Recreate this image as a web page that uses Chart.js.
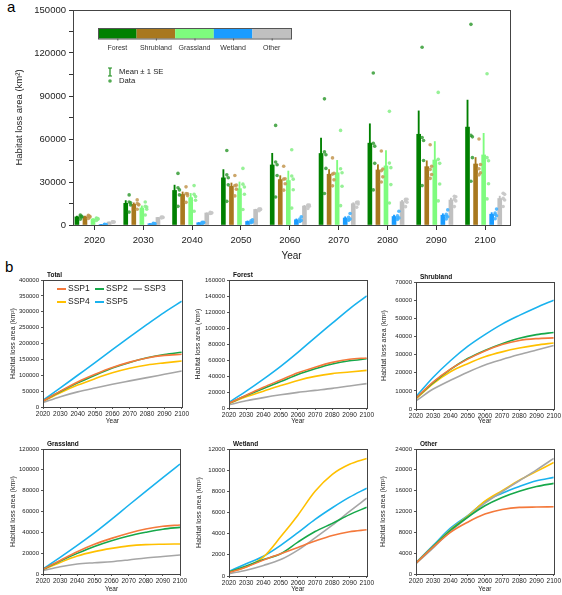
<!DOCTYPE html>
<html>
<head>
<meta charset="utf-8">
<script src="https://cdn.jsdelivr.net/npm/chart.js@4.4.0/dist/chart.umd.min.js"></script>
<style>
  body { margin: 0; background: #fff; width: 562px; height: 595px; position: relative; overflow: hidden;
         font-family: "Liberation Sans", Arial, sans-serif; }
  canvas { position: absolute; }
  .tag { position: absolute; font-size: 15px; color: #000; }
</style>
</head>
<body>
<div class="tag" style="left:7px;top:-2px">a</div>
<div class="tag" style="left:5px;top:258px">b</div>
<script>
// years and scenario names
const years = [2020, 2030, 2040, 2050, 2060, 2070, 2080, 2090, 2100];
const sspNames = ['SSP1', 'SSP2', 'SSP3', 'SSP4', 'SSP5'];
const landTypes = ['Forest', 'Shrubland', 'Grassland', 'Wetland', 'Other'];

// habitat loss area (km2)
const totalSSP1 = [18900, 50000, 78900, 103000, 124400, 141400, 154600, 162600, 166000];
const totalSSP2 = [19000, 48700, 76000, 100300, 122600, 140400, 154900, 165600, 172400];
const totalSSP3 = [13900, 32500, 47600, 60000, 71600, 82200, 92600, 102900, 113200];
const totalSSP4 = [17500, 45100, 69100, 89300, 107600, 122000, 132400, 139000, 144700];
const totalSSP5 = [21000, 60000, 100000, 140000, 181000, 221000, 260000, 298000, 333000];

const forestSSP1 = [6000, 16000, 26000, 35000, 44000, 51000, 57000, 61000, 62500];
const forestSSP2 = [6000, 15500, 24500, 33000, 42000, 49000, 55000, 59000, 61500];
const forestSSP3 = [4000, 9000, 13000, 16500, 19500, 22000, 24500, 27500, 30500];
const forestSSP4 = [5500, 14000, 21000, 28000, 34500, 39500, 43000, 45000, 47000];
const forestSSP5 = [7000, 21000, 36000, 52000, 69500, 88000, 106000, 124000, 140000];

const shrubSSP1 = [6000, 15000, 22000, 27500, 32000, 35500, 37800, 38800, 39200];
const shrubSSP2 = [6000, 14500, 21800, 27800, 32300, 36000, 39000, 41000, 42200];
const shrubSSP3 = [4500, 11000, 15800, 20300, 24300, 27300, 30000, 32500, 35000];
const shrubSSP4 = [5500, 14000, 20500, 25000, 28800, 31500, 33600, 35200, 36400];
const shrubSSP5 = [6800, 17500, 26600, 34500, 41000, 46800, 51600, 56000, 60000];

const grassSSP1 = [4500, 13000, 21400, 28500, 34200, 39200, 43200, 45800, 47000];
const grassSSP2 = [4500, 12500, 19800, 26500, 32000, 36500, 40000, 43000, 44800];
const grassSSP3 = [3200, 7000, 9600, 10800, 11800, 13500, 15400, 16800, 18200];
const grassSSP4 = [4000, 11000, 17300, 21500, 24600, 27000, 28200, 28600, 28800];
const grassSSP5 = [4800, 16000, 27500, 39500, 52500, 66000, 79300, 92500, 105500];

const wetSSP1 = [320, 850, 1500, 2100, 2700, 3300, 3830, 4180, 4370];
const wetSSP2 = [380, 950, 1550, 2100, 3200, 4200, 4970, 5800, 6500];
const wetSSP3 = [220, 550, 1000, 1550, 2450, 3600, 4800, 6100, 7350];
const wetSSP4 = [380, 850, 1800, 3700, 5750, 8000, 9600, 10550, 11100];
const wetSSP5 = [440, 1150, 1870, 2900, 4100, 5350, 6450, 7450, 8300];

const otherSSP1 = [2100, 5200, 8000, 9950, 11500, 12400, 12800, 12850, 12900];
const otherSSP2 = [2100, 5300, 8400, 10900, 13100, 14700, 15900, 16800, 17400];
const otherSSP3 = [2000, 5000, 8200, 10900, 13600, 15800, 17900, 20000, 22200];
const otherSSP4 = [2100, 5300, 8500, 11100, 14000, 16000, 18000, 19700, 21400];
const otherSSP5 = [2200, 5500, 8800, 11200, 13900, 15500, 16800, 17900, 18550];

const landSeries = [
  [forestSSP1, forestSSP2, forestSSP3, forestSSP4, forestSSP5],
  [shrubSSP1, shrubSSP2, shrubSSP3, shrubSSP4, shrubSSP5],
  [grassSSP1, grassSSP2, grassSSP3, grassSSP4, grassSSP5],
  [wetSSP1, wetSSP2, wetSSP3, wetSSP4, wetSSP5],
  [otherSSP1, otherSSP2, otherSSP3, otherSSP4, otherSSP5]
];
const totalSeries = [totalSSP1, totalSSP2, totalSSP3, totalSSP4, totalSSP5];

// styling
const FONT = '"Liberation Sans", Arial, sans-serif';
Chart.defaults.font.family = FONT;
Chart.defaults.color = '#222';
Chart.defaults.animation = false;

const barColors = ['#008000', '#a8781e', '#7efc7e', '#1a9cff', '#c0c0c0'];
const dotColors = ['rgba(40,150,40,0.8)', 'rgba(195,150,80,0.85)', 'rgba(140,240,140,0.9)',
                   'rgba(60,175,255,0.85)', 'rgba(200,200,200,0.95)'];
const sspColors = ['#f4793b', '#16a84a', '#a6a6a6', '#ffc000', '#19b2ee'];
const barShift = [-3.6, -1.95, -0.3, 1.35, 3.0];
const dotShift = [0.7, 1.0, 0.7, 1.0, 0.7];

function makeCanvas(left, top, w, h) {
  const c = document.createElement('canvas');
  c.width = w; c.height = h;
  c.style.left = left + 'px'; c.style.top = top + 'px';
  c.style.width = w + 'px'; c.style.height = h + 'px';
  document.body.appendChild(c);
  return c;
}

const framePlugin = {
  id: 'frame',
  afterDraw(chart) {
    const {ctx, chartArea: a} = chart;
    ctx.save();
    ctx.strokeStyle = '#444';
    ctx.lineWidth = 1;
    ctx.strokeRect(Math.round(a.left) + 0.5, Math.round(a.top) + 0.5,
                   Math.round(a.right - a.left), Math.round(a.bottom - a.top));
    ctx.restore();
  }
};

// ---------- panel a ----------
const stats = landSeries.map(group => years.map((y, k) => {
  const vals = group.map(s => s[k]);
  const m = vals.reduce((a, b) => a + b, 0) / vals.length;
  const sd = Math.sqrt(vals.reduce((a, v) => a + (v - m) ** 2, 0) / (vals.length - 1));
  return {mean: m, se: sd / Math.sqrt(vals.length)};
}));

const aSets = [];
landTypes.forEach((name, i) => {
  aSets.push({
    type: 'bar', label: name + ' SE', grouped: false, order: 3,
    data: years.map((y, k) => ({x: y + barShift[i], y: [stats[i][k].mean - stats[i][k].se, stats[i][k].mean + stats[i][k].se]})),
    backgroundColor: barColors[i], barThickness: 1.2
  });
  aSets.push({
    type: 'bar', label: name, grouped: false, order: 2,
    data: years.map((y, k) => ({x: y + barShift[i], y: stats[i][k].mean})),
    backgroundColor: barColors[i], barThickness: 4
  });
  aSets.push({
    type: 'scatter', label: name + ' data', order: 1,
    data: years.flatMap((y, k) => landSeries[i].map((s, j) => ({x: y + barShift[i] + dotShift[j], y: s[k]}))),
    pointRadius: 1.8, pointBackgroundColor: dotColors[i], pointBorderWidth: 0
  });
});

const landLegend = {
  id: 'landLegend',
  afterDraw(chart) {
    const ctx = chart.ctx;
    const x0 = 98, y0 = 28, w = 38.6, h = 10.5;
    ctx.save();
    landTypes.forEach((name, i) => {
      ctx.fillStyle = barColors[i];
      ctx.fillRect(x0 + i * w, y0, w, h);
      ctx.strokeStyle = '#555';
      ctx.beginPath();
      ctx.moveTo(x0 + i * w + w / 2 + 0.5, y0 + h);
      ctx.lineTo(x0 + i * w + w / 2 + 0.5, y0 + h + 2);
      ctx.stroke();
      ctx.fillStyle = '#333';
      ctx.font = '7px ' + FONT;
      ctx.textAlign = 'center';
      ctx.textBaseline = 'middle';
      ctx.fillText(name, x0 + i * w + w / 2, 48);
    });
    ctx.strokeStyle = '#555';
    ctx.lineWidth = 1;
    ctx.strokeRect(x0 + 0.5, y0 + 0.5, 5 * w, h);
    // mean +- SE symbol
    ctx.strokeStyle = '#1a8c1a';
    ctx.lineWidth = 1.2;
    ctx.beginPath();
    ctx.moveTo(110, 68); ctx.lineTo(110, 76);
    ctx.moveTo(108, 68); ctx.lineTo(112, 68);
    ctx.moveTo(108, 76); ctx.lineTo(112, 76);
    ctx.stroke();
    ctx.fillStyle = 'rgba(40,150,40,0.8)';
    ctx.beginPath(); ctx.arc(110, 81, 1.8, 0, Math.PI * 2); ctx.fill();
    ctx.fillStyle = '#222';
    ctx.font = '7.7px ' + FONT;
    ctx.textAlign = 'left';
    ctx.textBaseline = 'middle';
    ctx.fillText('Mean \u00b1 1 SE', 119, 72);
    ctx.fillText('Data', 119, 81);
    ctx.restore();
  }
};

new Chart(makeCanvas(0, 0, 530, 262), {
  type: 'bar',
  data: {datasets: aSets},
  options: {
    responsive: false, devicePixelRatio: 1,
    layout: {padding: {top: 10, right: 20, left: 0, bottom: 0}},
    plugins: {legend: {display: false}, tooltip: {enabled: false}},
    scales: {
      x: {
        type: 'linear', min: 2015.6, max: 2105.1, offset: false,
        afterBuildTicks: s => { s.ticks = years.map(v => ({value: v})); },
        ticks: {callback: v => String(v), autoSkip: false, maxRotation: 0, font: {size: 9.5}, padding: 5},
        grid: {drawOnChartArea: false, offset: false, tickLength: 5, color: '#333'},
        border: {display: false},
        title: {display: true, text: 'Year', font: {size: 10}, padding: {top: 0, bottom: 0}},
        afterFit: s => { s.height = 37; }
      },
      y: {
        min: 0, max: 150000,
        ticks: {stepSize: 15000, callback: v => (v % 30000 === 0 ? String(v) : ''), font: {size: 9.5}, padding: 3},
        grid: {drawOnChartArea: false, tickLength: 4, color: '#333'},
        border: {display: false},
        title: {display: true, text: 'Habitat loss area (km\u00b2)', font: {size: 9.5}, padding: {top: 14, bottom: 0}},
        afterFit: s => { s.width = 73; }
      }
    }
  },
  plugins: [framePlugin, landLegend]
});

// ---------- panel b ----------
const panelTitle = {
  id: 'panelTitle',
  afterDraw(chart, args, opts) {
    const {ctx, chartArea: a} = chart;
    ctx.save();
    ctx.fillStyle = '#111';
    ctx.font = 'bold 6.5px ' + FONT;
    ctx.textAlign = 'left';
    ctx.textBaseline = 'bottom';
    ctx.fillText(opts.text, a.left + 4, a.top - 2);
    ctx.restore();
  }
};

const sspLegend = {
  id: 'sspLegend',
  afterDraw(chart, args, opts) {
    if (!opts.show) return;
    const ctx = chart.ctx;
    const cols = [57, 95, 133], rows = [27, 40];
    ctx.save();
    ctx.font = '8.5px ' + FONT;
    ctx.textAlign = 'left';
    ctx.textBaseline = 'middle';
    sspNames.forEach((name, i) => {
      const x = cols[i % 3], y = rows[Math.floor(i / 3)];
      ctx.strokeStyle = sspColors[i];
      ctx.lineWidth = 2;
      ctx.beginPath(); ctx.moveTo(x, y); ctx.lineTo(x + 9, y); ctx.stroke();
      ctx.fillStyle = '#222';
      ctx.fillText(name, x + 11, y);
    });
    ctx.restore();
  }
};

const panels = [
  {title: 'Total', series: totalSeries, max: 400000, step: 50000,
   box: [0, 262, 190, 165], plot: [43, 280, 183, 407], titleX: 13, legend: true},
  {title: 'Forest', series: landSeries[0], max: 160000, step: 20000,
   box: [190, 262, 185, 165], plot: [229, 280, 368, 408], titleX: 198},
  {title: 'Shrubland', series: landSeries[1], max: 70000, step: 10000,
   box: [375, 262, 187, 165], plot: [416, 282, 554, 409], titleX: 384},
  {title: 'Grassland', series: landSeries[2], max: 120000, step: 20000,
   box: [0, 430, 190, 165], plot: [43, 449, 180, 574], titleX: 13},
  {title: 'Wetland', series: landSeries[3], max: 12000, step: 2000,
   box: [190, 430, 185, 165], plot: [229, 449, 367, 576], titleX: 199},
  {title: 'Other', series: landSeries[4], max: 24000, step: 4000,
   box: [375, 430, 187, 165], plot: [416, 449, 554, 574], titleX: 383}
];

panels.forEach(p => {
  const [cl, ct, cw, ch] = p.box;
  const [pl, pt, pr, pb] = p.plot;
  new Chart(makeCanvas(cl, ct, cw, ch), {
    type: 'line',
    data: {
      datasets: p.series.map((s, i) => ({
        label: sspNames[i],
        data: years.map((y, k) => ({x: y, y: s[k]})),
        borderColor: sspColors[i],
        borderWidth: 1.6,
        pointRadius: 0,
        cubicInterpolationMode: 'monotone',
        fill: false
      }))
    },
    options: {
      responsive: false, devicePixelRatio: 1,
      layout: {padding: {top: pt - ct, right: cl + cw - pr, left: 0, bottom: 0}},
      plugins: {
        legend: {display: false}, tooltip: {enabled: false},
        panelTitle: {text: p.title},
        sspLegend: {show: !!p.legend}
      },
      scales: {
        x: {
          type: 'linear', min: 2020, max: 2100,
          afterBuildTicks: s => { s.ticks = years.map(v => ({value: v})); },
          ticks: {callback: v => String(v), autoSkip: false, maxRotation: 0, font: {size: 6.5}, padding: 1},
          grid: {drawOnChartArea: false, tickLength: 2, color: '#555'},
          border: {display: false},
          title: {display: true, text: 'Year', font: {size: 6.5}, padding: {top: 0, bottom: 2}},
          afterFit: s => { s.height = ct + ch - pb; }
        },
        y: {
          min: 0, max: p.max,
          ticks: {stepSize: p.step, callback: v => String(v), font: {size: 6}, padding: 2},
          grid: {drawOnChartArea: false, tickLength: 2, color: '#555'},
          border: {display: false},
          title: {display: true, text: 'Habitat loss area (km\u00b2)', font: {size: 7},
                  padding: {top: p.titleX - cl - 4.2, bottom: 0}},
          afterFit: s => { s.width = pl - cl; }
        }
      }
    },
    plugins: [framePlugin, panelTitle, sspLegend]
  });
});
</script>
</body>
</html>
